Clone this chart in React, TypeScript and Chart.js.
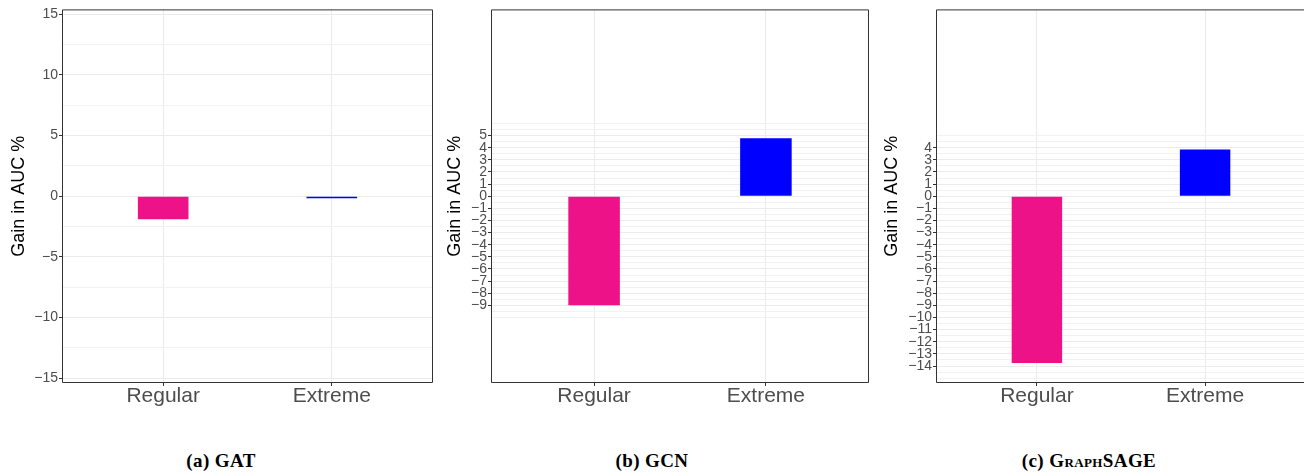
import React, { useEffect, useRef } from 'react';
import { Chart, registerables } from 'chart.js';
Chart.register(...registerables);

// ---- data ----
const categories = ['Regular', 'Extreme'];
const gatGain = [-1.9, -0.17];
const gcnGain = [-9.0, 4.78];
const sageGain = [-13.75, 3.85];
const gatTicks = [-15, -10, -5, 0, 5, 10, 15];
const gcnTicks = [-9, -8, -7, -6, -5, -4, -3, -2, -1, 0, 1, 2, 3, 4, 5];
const sageTicks = [-14, -13, -12, -11, -10, -9, -8, -7, -6, -5, -4, -3, -2, -1, 0, 1, 2, 3, 4];
const barColors = ['#EE1289', '#0000FF'];
const yTitle = 'Gain in AUC %';
const Y_MIN = -15.4;
const Y_MAX = 15.4;

const SANS = '"Liberation Sans", Arial, sans-serif';

function fmt(v: number): string {
  return v < 0 ? '\u2212' + Math.abs(v) : String(v);
}

function gridValues(ticks: number[], min: number, max: number): number[] {
  const step = ticks[1] - ticks[0];
  const ext = [ticks[0] - step, ...ticks, ticks[ticks.length - 1] + step];
  const out: number[] = [];
  for (let i = 0; i < ext.length; i++) {
    out.push(ext[i]);
    if (i < ext.length - 1) out.push((ext[i] + ext[i + 1]) / 2);
  }
  return out.filter((v) => v >= min && v <= max);
}

const borderPlugin = {
  id: 'panelBorder',
  afterDraw(chart: any) {
    const { ctx, chartArea, width } = chart;
    const { left, top, right, bottom } = chartArea;
    ctx.save();
    ctx.strokeStyle = '#333333';
    ctx.lineWidth = 1;
    ctx.beginPath();
    ctx.moveTo(left + 0.5, top + 0.5);
    ctx.lineTo(right - 0.5, top + 0.5);
    if (right <= width) {
      ctx.lineTo(right - 0.5, bottom - 0.5);
    } else {
      ctx.moveTo(right - 0.5, bottom - 0.5);
    }
    ctx.lineTo(left + 0.5, bottom - 0.5);
    ctx.lineTo(left + 0.5, top + 0.5);
    ctx.stroke();
    ctx.restore();
  },
};

type PanelProps = {
  values: number[];
  ticks: number[];
  left: number;
  width: number;
  yAxisWidth: number;
  padRight: number;
  titlePad: number;
};

function Panel({ values, ticks, left, width, yAxisWidth, padRight, titlePad }: PanelProps) {
  const ref = useRef<HTMLCanvasElement>(null);
  useEffect(() => {
    if (!ref.current) return;
    const grid = gridValues(ticks, Y_MIN, Y_MAX);
    const labelSet = new Set(ticks);
    const chart = new Chart(ref.current, {
      type: 'bar',
      data: {
        datasets: [
          {
            data: categories.map((c, i) => ({ x: i + 1, y: values[i] })),
            backgroundColor: barColors,
            borderWidth: 0,
            barPercentage: 0.3,
            categoryPercentage: 1,
          } as any,
        ],
      },
      options: {
        responsive: false,
        animation: false,
        devicePixelRatio: 1,
        layout: { padding: { top: 9, right: padRight, bottom: 0, left: 0 } },
        plugins: { legend: { display: false }, tooltip: { enabled: false } },
        scales: {
          x: {
            type: 'linear',
            min: 0.4,
            max: 2.6,
            offset: false,
            afterBuildTicks: (s: any) => {
              s.ticks = categories.map((_, i) => ({ value: i + 1 }));
            },
            afterFit: (s: any) => {
              s.height = 37;
            },
            ticks: {
              autoSkip: false,
              maxRotation: 0,
              padding: -2,
              color: '#4D4D4D',
              font: { family: SANS, size: 21 },
              callback: (_v: any, i: number) => categories[i],
            },
            grid: {
              color: '#EBEBEB',
              offset: false,
              tickLength: 3,
              tickColor: '#333333',
            },
            border: { display: false },
          } as any,
          y: {
            type: 'linear',
            min: Y_MIN,
            max: Y_MAX,
            afterBuildTicks: (s: any) => {
              s.ticks = grid.map((v) => ({ value: v }));
            },
            afterFit: (s: any) => {
              s.width = yAxisWidth;
            },
            ticks: {
              autoSkip: false,
              padding: 1,
              color: '#4D4D4D',
              font: { family: SANS, size: 14 },
              callback: (v: any) => (labelSet.has(v) ? fmt(v) : ''),
            },
            grid: {
              color: (ctx: any) => (labelSet.has(ctx.tick?.value) ? '#EBEBEB' : '#F2F2F2'),
              lineWidth: 1,
              tickLength: 3,
              tickColor: (ctx: any) => (labelSet.has(ctx.tick?.value) ? '#333333' : 'rgba(0,0,0,0)'),
            },
            border: { display: false },
            title: {
              display: true,
              text: yTitle,
              color: '#000000',
              font: { family: SANS, size: 18 },
              padding: { top: titlePad, bottom: 0 },
            },
          } as any,
        },
      },
      plugins: [borderPlugin],
    });
    return () => chart.destroy();
  }, []);
  return (
    <canvas
      ref={ref}
      width={width}
      height={420}
      style={{ position: 'absolute', left, top: 0, width, height: 420 }}
    />
  );
}

const captionStyle: React.CSSProperties = {
  position: 'absolute',
  top: 451,
  width: 240,
  textAlign: 'center',
  fontFamily: '"Liberation Serif", "Times New Roman", serif',
  fontWeight: 'bold',
  fontSize: 19,
  letterSpacing: '0.4px',
  lineHeight: '20px',
  color: '#000',
  whiteSpace: 'nowrap',
};

export default function App() {
  return (
    <div
      style={{
        position: 'absolute',
        left: 0,
        top: 0,
        width: 1304,
        height: 476,
        overflow: 'hidden',
        background: '#ffffff',
      }}
    >
      <Panel values={gatGain} ticks={gatTicks} left={0} width={440} yAxisWidth={62} padRight={7} titlePad={8} />
      <Panel values={gcnGain} ticks={gcnTicks} left={440} width={440} yAxisWidth={51} padRight={11} titlePad={4} />
      <Panel values={sageGain} ticks={sageTicks} left={880} width={440} yAxisWidth={56} padRight={14} titlePad={1} />
      <div style={{ ...captionStyle, left: 221 - 120 }}>(a) GAT</div>
      <div style={{ ...captionStyle, left: 652 - 120 }}>(b) GCN</div>
      <div style={{ ...captionStyle, left: 1089 - 120 }}>
        (c) <span style={{ fontVariant: 'small-caps' }}>GraphSAGE</span>
      </div>
    </div>
  );
}
